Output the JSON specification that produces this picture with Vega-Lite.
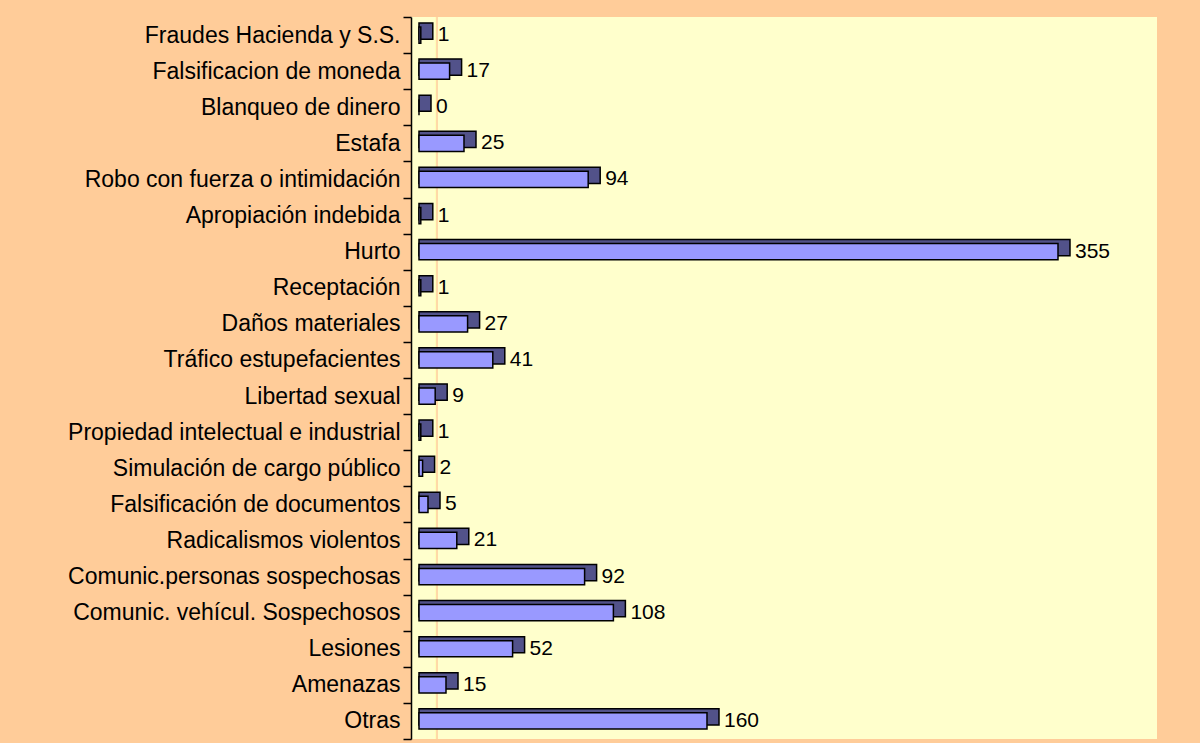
{
  "$schema": "https://vega.github.io/schema/vega-lite/v6.json",
  "width": 746,
  "height": 722,
  "autosize": {"type": "none"},
  "padding": {"left": 411, "top": 17, "right": 43, "bottom": 4},
  "background": "#FFCC99",
  "config": {
    "view": {"stroke": null, "fill": "#FFFFCC"},
    "font": "Liberation Sans"
  },
  "data": {
    "values": [
      {"delito": "Fraudes Hacienda y S.S.", "n": 1},
      {"delito": "Falsificacion de moneda", "n": 17},
      {"delito": "Blanqueo de dinero", "n": 0},
      {"delito": "Estafa", "n": 25},
      {"delito": "Robo con fuerza o intimidación", "n": 94},
      {"delito": "Apropiación indebida", "n": 1},
      {"delito": "Hurto", "n": 355},
      {"delito": "Receptación", "n": 1},
      {"delito": "Daños materiales", "n": 27},
      {"delito": "Tráfico estupefacientes", "n": 41},
      {"delito": "Libertad sexual", "n": 9},
      {"delito": "Propiedad intelectual e industrial", "n": 1},
      {"delito": "Simulación de cargo público", "n": 2},
      {"delito": "Falsificación de documentos", "n": 5},
      {"delito": "Radicalismos violentos", "n": 21},
      {"delito": "Comunic.personas sospechosas", "n": 92},
      {"delito": "Comunic. vehícul. Sospechosos", "n": 108},
      {"delito": "Lesiones", "n": 52},
      {"delito": "Amenazas", "n": 15},
      {"delito": "Otras", "n": 160}
    ]
  },
  "encoding": {
    "y": {
      "field": "delito",
      "type": "nominal",
      "sort": null,
      "scale": {"paddingInner": 0, "paddingOuter": 0},
      "axis": {
        "title": null,
        "domainColor": "#000000",
        "domainWidth": 1.5,
        "tickColor": "#000000",
        "tickWidth": 1.5,
        "tickSize": 8,
        "tickBand": "extent",
        "labelFontSize": 23,
        "labelFont": "Liberation Sans",
        "labelColor": "#000000",
        "labelPadding": 3,
        "labelLimit": 0,
        "grid": false
      }
    }
  },
  "layer": [
    {
      "mark": {"type": "rule", "color": "#FFD9A8", "strokeWidth": 2},
      "encoding": {"x": {"datum": 10, "type": "quantitative", "scale": {"domain": [-4.44, 410], "nice": false, "zero": false}, "axis": null}, "y": null}
    },
    {
      "mark": {"type": "bar", "color": "#52528A", "stroke": "#000000", "strokeWidth": 1.5, "height": {"band": 0.45}, "xOffset": 12, "yOffset": -4},
      "encoding": {
        "x": {"field": "n", "type": "quantitative", "scale": {"domain": [-4.44, 410], "nice": false, "zero": false}, "axis": null},
        "x2": {"datum": 0}
      }
    },
    {
      "mark": {"type": "bar", "color": "#9999FF", "stroke": "#000000", "strokeWidth": 1.5, "height": {"band": 0.45}},
      "encoding": {
        "x": {"field": "n", "type": "quantitative"},
        "x2": {"datum": 0}
      }
    },
    {
      "mark": {"type": "text", "align": "left", "baseline": "middle", "dx": 17, "fontSize": 21, "font": "Liberation Sans", "color": "#000000"},
      "encoding": {
        "x": {"field": "n", "type": "quantitative"},
        "text": {"field": "n", "type": "quantitative"}
      }
    }
  ]
}
